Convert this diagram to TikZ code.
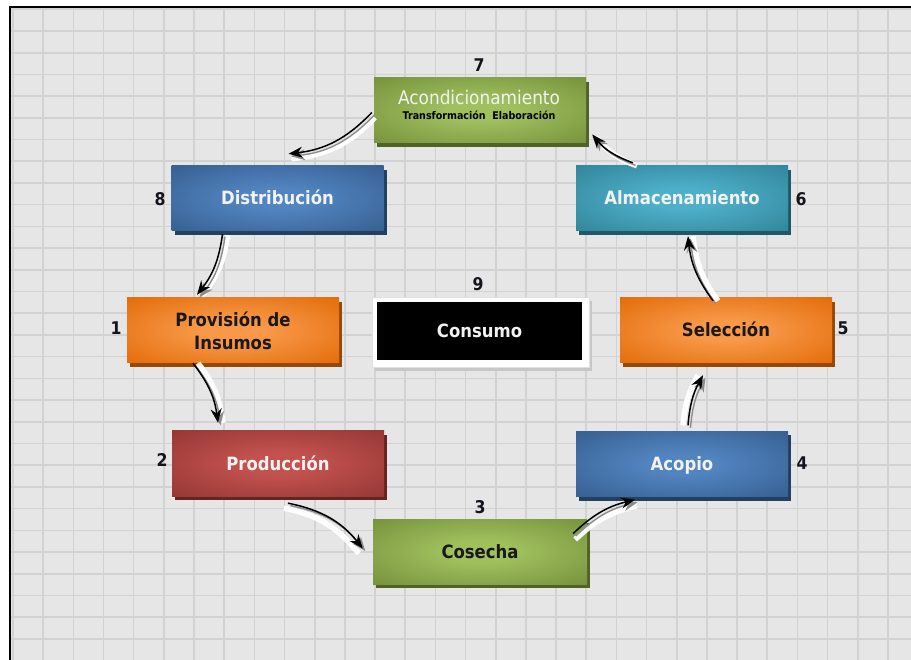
\documentclass[tikz,border=0pt]{standalone}
\usepackage{fontspec}
\setmainfont{DejaVu Sans}
\newfontfamily\boxfont{DejaVu Sans}[FakeStretch=0.9]
\usetikzlibrary{arrows.meta,calc,shadows}

\definecolor{bggray}{RGB}{230,230,230}
\definecolor{gridgray}{RGB}{210,210,210}
\definecolor{greenout}{RGB}{118,146,60}
\definecolor{greenin}{RGB}{160,192,94}
\definecolor{greenshd}{RGB}{79,98,40}
\definecolor{blueout}{RGB}{54,95,145}
\definecolor{bluein}{RGB}{82,132,192}
\definecolor{blueshd}{RGB}{36,64,97}
\definecolor{tealout}{RGB}{49,133,155}
\definecolor{tealin}{RGB}{78,175,200}
\definecolor{tealshd}{RGB}{32,88,103}
\definecolor{orangeout}{RGB}{227,108,9}
\definecolor{orangein}{RGB}{248,152,72}
\definecolor{orangeshd}{RGB}{151,72,6}
\definecolor{redout}{RGB}{149,55,53}
\definecolor{redin}{RGB}{195,82,79}
\definecolor{redshd}{RGB}{99,36,35}
\definecolor{numcol}{RGB}{20,20,30}
\definecolor{lighttext}{RGB}{242,242,242}
\colorlet{glowin}{white}
\colorlet{glowout}{black}

\pgfdeclareradialshading[glowin,glowout]{glow}{\pgfpoint{0bp}{0bp}}{color(0bp)=(glowin); color(8bp)=(glowin); color(36bp)=(glowout); color(50bp)=(glowout)}

\tikzset{
  box/.style={rectangle, minimum width=212pt, minimum height=65pt, inner sep=0pt,
    align=center, font=\boxfont\bfseries\fontsize{18.3}{23}\selectfont},
  oneline/.style={text height=14pt, text depth=1pt},
  glowbox/.style n args={3}{box, shading=glow,
    /utils/exec={\colorlet{glowin}{#1}\colorlet{glowout}{#2}},
    drop shadow={shadow xshift=3pt, shadow yshift=-4pt, fill=#3, opacity=1}},
  numlabel/.style={font=\boxfont\bfseries\fontsize{17.5}{20}\selectfont, text=numcol, inner sep=0pt},
  gridline/.style={draw=gridgray, line width=1.6pt},
  whiteband/.style={draw=white, line width=5.5pt, opacity=0.95},
  arrowshade/.style={draw=black!45, line width=1.4pt, -{Stealth[length=14pt,width=11pt]}},
  flowline/.style={draw=black, line width=1.5pt, -{Stealth[length=14pt,width=11pt]}},
}

\newcommand{\flowarrow}[5]{%
  \draw[whiteband, transform canvas={shift={(#3,#4)}}] (#1) to[bend left=#5] (#2);
  \draw[arrowshade, transform canvas={shift={(2.5,2.5)}}] (#1) to[bend left=#5] (#2);
  \draw[flowline] (#1) to[bend left=#5] (#2);
}

\begin{document}
\begin{tikzpicture}[x=1pt,y=-1pt]
\useasboundingbox (0,0) rectangle (911,660);
\fill[white] (0,0) rectangle (911,660);
\fill[bggray] (10,7) rectangle (911,660);
\begin{scope}
  \clip (10,7) rectangle (911,660);
  \foreach \i in {0,...,30} {\draw[gridline] ({13+30.17*\i},7) -- ({13+30.17*\i},660);}
  \foreach \j in {0,...,30} {\draw[gridline] (10,{9.3+21.71*\j}) -- (911,{9.3+21.71*\j});}
\end{scope}
\draw[black, line width=2pt] (10,660) -- (10,7) -- (911,7);

% boxes
\node[glowbox={greenin}{greenout}{greenshd}] (acond) at (480,110.5) {};
\node[font=\boxfont\fontsize{18.8}{20}\selectfont, text=lighttext, inner sep=0pt] (acondtitle) at (479,97) {Acondicionamiento};
\node[font=\boxfont\bfseries\fontsize{10.6}{12}\selectfont, text=black, inner sep=0pt] (acondsub) at (479,115.5) {Transformación\ \ Elaboración};

\node[glowbox={bluein}{blueout}{blueshd}, oneline, text=lighttext] (dist) at (277.5,198.5) {Distribución};
\node[glowbox={tealin}{tealout}{tealshd}, oneline, text=lighttext] (alma) at (682,198.5) {Almacenamiento};
\node[glowbox={orangein}{orangeout}{orangeshd}, text=black!90] (prov) at (233,330.5) {Provisión de\\Insumos};
\node[glowbox={orangein}{orangeout}{orangeshd}, oneline, text=black!90] (sel) at (726,330.5) {Selección};
\node[glowbox={redin}{redout}{redshd}, oneline, text=lighttext] (prod) at (278,463.5) {Producción};
\node[glowbox={bluein}{blueout}{blueshd}, oneline, text=lighttext] (acopio) at (682,464) {Acopio};
\node[glowbox={greenin}{greenout}{greenshd}, oneline, text=black!90, minimum width=214pt] (cosecha) at (480,551.5) {Cosecha};

\node[rectangle, fill=white, draw=black!12, minimum width=217pt, minimum height=70pt,
  drop shadow={shadow xshift=3pt, shadow yshift=-4pt, fill=black!22, opacity=1}] (consumoframe) at (480.5,332) {};
\node[box, oneline, fill=black, minimum width=205pt, minimum height=58pt, text=lighttext] (consumo) at (479.5,331) {Consumo};

% numbers
\node[numlabel] (n7) at (479,65) {7};
\node[numlabel] (n8) at (160,199) {8};
\node[numlabel] (n6) at (801,199) {6};
\node[numlabel] (n1) at (116,328) {1};
\node[numlabel] (n9) at (478,284) {9};
\node[numlabel] (n5) at (843,328) {5};
\node[numlabel] (n2) at (162,460) {2};
\node[numlabel] (n4) at (802,463) {4};
\node[numlabel] (n3) at (480,507) {3};

% arrow end points
\coordinate (s78) at ($(acond.west)+(-2,2)$);
\coordinate (e78) at ($(dist.north)+(11,-12)$);
\coordinate (s81) at ($(dist.south)+(-55,3)$);
\coordinate (e81) at ($(prov.north)+(-36,-3)$);
\coordinate (s12) at ($(prov.south)+(-40,0)$);
\coordinate (e12) at ($(prod.north)+(-60,-8)$);
\coordinate (s23) at ($(prod.south)+(10,7)$);
\coordinate (e23) at ($(cosecha.west)+(-10,-3)$);
\coordinate (s34) at ($(cosecha.east)+(-14,-18)$);
\coordinate (e34) at ($(acopio.south)+(-47,3)$);
\coordinate (s45) at ($(acopio.north)+(6,-6)$);
\coordinate (e45) at ($(sel.south)+(-23,12)$);
\coordinate (s56) at ($(sel.north)+(-13,3)$);
\coordinate (e56) at ($(alma.south)+(6,5)$);
\coordinate (s67) at ($(alma.north)+(-49,-3)$);
\coordinate (e67) at ($(acond.east)+(6,24)$);

\flowarrow{s78}{e78}{3}{5}{20}
\flowarrow{s81}{e81}{5}{1}{15}
\flowarrow{s12}{e12}{5}{0}{15}
\flowarrow{s23}{e23}{-4}{5}{20}
\flowarrow{s34}{e34}{2}{6}{15}
\flowarrow{s45}{e45}{-5}{0}{12}
\flowarrow{s56}{e56}{5}{0}{15}
\flowarrow{s67}{e67}{4}{3}{15}
\end{tikzpicture}
\end{document}
